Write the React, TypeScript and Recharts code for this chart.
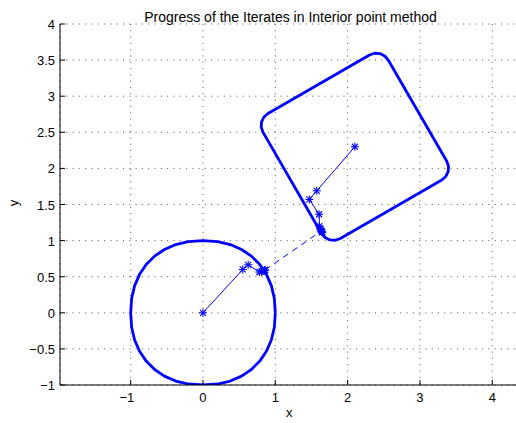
import React from 'react';
import { ComposedChart, Line, XAxis, YAxis, CartesianGrid } from 'recharts';

// axis ticks
const xTicks = [-1, 0, 1, 2, 3, 4];
const yTicks = [-1, -0.5, 0, 0.5, 1, 1.5, 2, 2.5, 3, 3.5, 4];

// first feasible region (slightly squarish ball centred at the origin)
const circleBoundary = [
  { x: 1.0, y: 0.0 }, { x: 0.986, y: 0.204 }, { x: 0.945, y: 0.377 }, { x: 0.877, y: 0.533 },
  { x: 0.785, y: 0.669 }, { x: 0.669, y: 0.785 }, { x: 0.533, y: 0.877 }, { x: 0.377, y: 0.945 },
  { x: 0.204, y: 0.986 }, { x: 0.0, y: 1.0 }, { x: -0.204, y: 0.986 }, { x: -0.377, y: 0.945 },
  { x: -0.533, y: 0.877 }, { x: -0.669, y: 0.785 }, { x: -0.785, y: 0.669 }, { x: -0.877, y: 0.533 },
  { x: -0.945, y: 0.377 }, { x: -0.986, y: 0.204 }, { x: -1.0, y: 0.0 }, { x: -0.986, y: -0.204 },
  { x: -0.945, y: -0.377 }, { x: -0.877, y: -0.533 }, { x: -0.785, y: -0.669 }, { x: -0.669, y: -0.785 },
  { x: -0.533, y: -0.877 }, { x: -0.377, y: -0.945 }, { x: -0.204, y: -0.986 }, { x: 0.0, y: -1.0 },
  { x: 0.204, y: -0.986 }, { x: 0.377, y: -0.945 }, { x: 0.533, y: -0.877 }, { x: 0.669, y: -0.785 },
  { x: 0.785, y: -0.669 }, { x: 0.877, y: -0.533 }, { x: 0.945, y: -0.377 }, { x: 0.986, y: -0.204 },
  { x: 1.0, y: 0.0 },
];

// second feasible region (tilted rounded square)
const squareBoundary = [
  { x: 2.561, y: 3.502 }, { x: 2.512, y: 3.557 }, { x: 2.446, y: 3.59 }, { x: 2.372, y: 3.595 },
  { x: 2.302, y: 3.571 },
  { x: 0.899, y: 2.761 }, { x: 0.843, y: 2.712 }, { x: 0.81, y: 2.646 }, { x: 0.805, y: 2.572 },
  { x: 0.829, y: 2.502 },
  { x: 1.639, y: 1.099 }, { x: 1.688, y: 1.043 }, { x: 1.754, y: 1.01 }, { x: 1.828, y: 1.005 },
  { x: 1.899, y: 1.029 },
  { x: 3.302, y: 1.839 }, { x: 3.357, y: 1.888 }, { x: 3.39, y: 1.954 }, { x: 3.395, y: 2.028 },
  { x: 3.371, y: 2.099 },
  { x: 2.561, y: 3.502 },
];

// iterates
const circleIterates = [
  { x: 0, y: 0 }, { x: 0.55, y: 0.6 }, { x: 0.625, y: 0.665 }, { x: 0.78, y: 0.565 },
  { x: 0.81, y: 0.57 }, { x: 0.83, y: 0.58 }, { x: 0.845, y: 0.585 }, { x: 0.855, y: 0.59 },
  { x: 0.86, y: 0.595 },
];
const squareIterates = [
  { x: 2.1, y: 2.3 }, { x: 1.573, y: 1.69 }, { x: 1.47, y: 1.57 }, { x: 1.605, y: 1.365 },
  { x: 1.61, y: 1.2 }, { x: 1.62, y: 1.17 }, { x: 1.63, y: 1.15 }, { x: 1.64, y: 1.13 },
  { x: 1.645, y: 1.12 }, { x: 1.65, y: 1.115 },
];
const bridge = [
  { x: 0.86, y: 0.595 }, { x: 1.61, y: 1.115 },
];

const BLUE = '#0000ff';
const FONT = 'Arial, "Liberation Sans", Helvetica, sans-serif';
const xDomain = [-1.977, 4.397];

const fmt = (v: number) => (v < 0 ? '\u2212' + Math.abs(v) : String(v));

const BottomTick = (props: any) => {
  const { x, y, payload } = props;
  const v = payload.value;
  return (
    <g>
      <line x1={x} y1={y} x2={x} y2={y - 5} stroke="#000" />
      <text x={v < 0 ? x - 3.8 : x} y={y + 17} textAnchor="middle" fontSize={13} fontFamily={FONT} fill="#000">
        {fmt(v)}
      </text>
    </g>
  );
};

const TopTick = (props: any) => {
  const { x, y } = props;
  return <line x1={x} y1={y} x2={x} y2={y + 5} stroke="#000" />;
};

const LeftTick = (props: any) => {
  const { x, y, payload } = props;
  return (
    <g>
      <line x1={x + 5} y1={y} x2={x + 10} y2={y} stroke="#000" />
      <text x={x} y={y + 5} textAnchor="end" fontSize={13} fontFamily={FONT} fill="#000">
        {fmt(payload.value)}
      </text>
    </g>
  );
};

const renderStar = (p: any) => {
  const { cx, cy, index } = p;
  if (cx == null || cy == null) return <g key={index} />;
  return (
    <g key={index} stroke={BLUE} strokeWidth={1.1}>
      <line x1={cx - 4} y1={cy} x2={cx + 4} y2={cy} />
      <line x1={cx} y1={cy - 4} x2={cx} y2={cy + 4} />
      <line x1={cx - 3} y1={cy - 3} x2={cx + 3} y2={cy + 3} />
      <line x1={cx - 3} y1={cy + 3} x2={cx + 3} y2={cy - 3} />
    </g>
  );
};

export default function App() {
  return (
    <div style={{ position: 'absolute', left: 0, top: 0, width: 516, height: 423, overflow: 'hidden', background: '#fff' }}>
      <ComposedChart width={521} height={423} margin={{ top: 24, right: 0, bottom: 0, left: 0 }}>
        <CartesianGrid stroke="#555" strokeDasharray="1 5.3" />
        <XAxis
          dataKey="x"
          type="number"
          domain={xDomain}
          ticks={xTicks}
          interval={0}
          allowDataOverflow
          height={38}
          tickSize={0}
          tickMargin={0}
          tickLine={false}
          axisLine={{ stroke: '#000' }}
          tick={BottomTick}
        />
        <XAxis
          xAxisId="top"
          orientation="top"
          type="number"
          domain={xDomain}
          ticks={xTicks}
          interval={0}
          allowDataOverflow
          height={0}
          tickSize={0}
          tickMargin={0}
          tickLine={false}
          axisLine={{ stroke: '#000' }}
          tick={TopTick}
        />
        <YAxis
          type="number"
          domain={[-1, 4]}
          ticks={yTicks}
          interval={0}
          allowDataOverflow
          width={60}
          tickSize={0}
          tickMargin={5}
          tickLine={false}
          axisLine={{ stroke: '#000' }}
          tick={LeftTick}
        />
        <Line data={circleBoundary} dataKey="y" stroke={BLUE} strokeWidth={2.8} dot={false} activeDot={false} isAnimationActive={false} strokeLinejoin="round" />
        <Line data={squareBoundary} dataKey="y" stroke={BLUE} strokeWidth={2.8} dot={false} activeDot={false} isAnimationActive={false} strokeLinejoin="round" />
        <Line data={circleIterates} dataKey="y" stroke={BLUE} strokeWidth={1} dot={renderStar} activeDot={false} isAnimationActive={false} />
        <Line data={squareIterates} dataKey="y" stroke={BLUE} strokeWidth={1} dot={renderStar} activeDot={false} isAnimationActive={false} />
        <Line data={bridge} dataKey="y" stroke={BLUE} strokeWidth={1} strokeDasharray="6 5" dot={false} activeDot={false} isAnimationActive={false} />
      </ComposedChart>
      <svg width={516} height={423} style={{ position: 'absolute', left: 0, top: 0, pointerEvents: 'none' }}>
        <text x={290.5} y={22} textAnchor="middle" fontSize={14} fontFamily={FONT} fill="#000">
          Progress of the Iterates in Interior point method
        </text>
        <text x={289.3} y={417} textAnchor="middle" fontSize={13} fontFamily={FONT} fill="#000">
          x
        </text>
        <text x={18} y={203} textAnchor="middle" fontSize={13} fontFamily={FONT} fill="#000" transform="rotate(-90, 18, 203)">
          y
        </text>
      </svg>
    </div>
  );
}
